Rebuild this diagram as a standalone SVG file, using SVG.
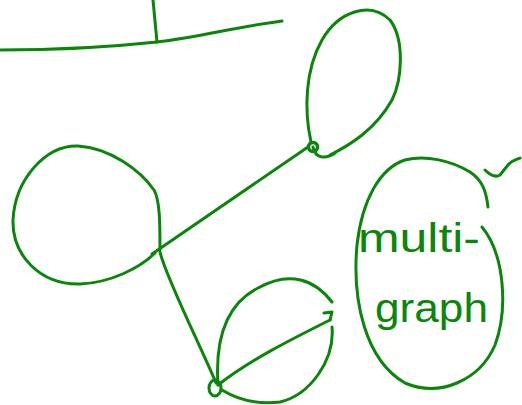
<svg xmlns="http://www.w3.org/2000/svg" width="522" height="405" viewBox="0 0 522 405">
<style>
.s{fill:none;stroke:#0a860a;stroke-width:3;stroke-linecap:round;stroke-linejoin:round}
.t{fill:#0a860a;font-family:"Liberation Sans",Arial,sans-serif;font-size:40px}
</style>
<rect width="522" height="405" fill="#fff"/>
<g id="top-line">
<path class="s" d="M0,50 C60,50 120,46 157,42 C200,37 230,28 282,21"/>
<path class="s" d="M153,0 L157,42"/>
</g>
<g id="connectors">
<path class="s" d="M152,254 L308,147"/>
<path class="s" d="M160,252 C165,275 200,345 216,383"/>
<path class="s" d="M218,385 C250,360 290,340 330,320"/>
</g>
<g id="node-top">
<path class="s" d="M311,142 C304,110 305,70 322,40 C338,12 370,0 390,20 C405,40 402,80 392,100 C375,130 350,145 330,155"/>
<path class="s" d="M313,147 C315,158 325,160 335,153"/>
<circle class="s" cx="313" cy="147" r="4.5" style="stroke-width:3.5"/>
</g>
<g id="node-left">
<path class="s" d="M160,250 C160,225 160,200 154,190 C140,170 110,148 78,146 C45,145 15,180 13,220 C12,255 40,285 80,284 C110,283 140,268 155,253"/>
</g>
<g id="node-bottom">
<path class="s" d="M218,385 C215,340 225,305 258,288 C290,270 315,280 332,302"/>
<path class="s" d="M324,313 L332,312 L330,320"/>
<path class="s" d="M332,327 C335,360 310,395 280,402 C255,405 235,398 222,390"/>
<ellipse class="s" cx="215" cy="388" rx="6" ry="8"/>
</g>
<g id="label">
<path class="s" d="M488,207 C486,190 482,180 470,172 C450,160 425,155 405,160 C380,168 362,200 357,245 C352,300 365,360 405,383 C440,398 480,380 495,345 C508,310 505,255 482,227"/>
<path class="s" d="M485,170 C490,175 495,178 500,175 L508,165 C512,160 516,160 520,158"/>
<text class="t" x="358" y="252" textLength="122" lengthAdjust="spacingAndGlyphs">multi-</text>
<text class="t" x="375" y="322" textLength="113" lengthAdjust="spacingAndGlyphs">graph</text>
</g>
</svg>
